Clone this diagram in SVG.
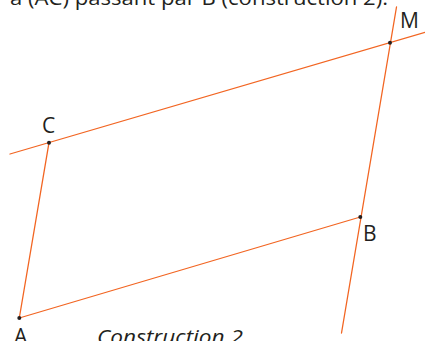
<svg xmlns="http://www.w3.org/2000/svg" width="425" height="341" viewBox="0 0 425 341">
<style>
.ln{stroke:#f26522;stroke-width:1.3;fill:none;stroke-linecap:round}
.pt{fill:#231f20}
.lb{font-family:"Open Sans","Noto Sans",sans-serif;font-size:21px;fill:#231f20}
.tt{font-family:"Open Sans","Noto Sans",sans-serif;font-size:20px;fill:#231f20}
</style>
<rect width="425" height="341" fill="#fff"/>
<text class="tt" x="10" y="4.5" textLength="378" lengthAdjust="spacingAndGlyphs">a (AC) passant par B (construction 2).</text>
<g id="connectors">
<line class="ln" x1="10" y1="154" x2="425" y2="32.4"/>
<line class="ln" x1="396.5" y1="7" x2="341.5" y2="333"/>
<line class="ln" x1="49" y1="142.7" x2="19.3" y2="318"/>
<line class="ln" x1="19.3" y1="318" x2="360.3" y2="217"/>
</g>
<g id="M"><circle class="pt" cx="390" cy="42.7" r="2"/><text class="lb" x="400" y="28.3">M</text></g>
<g id="C"><circle class="pt" cx="49" cy="142.7" r="2"/><text class="lb" x="42" y="133">C</text></g>
<g id="B"><circle class="pt" cx="360.3" cy="217" r="2"/><text class="lb" x="363" y="241">B</text></g>
<g id="A"><circle class="pt" cx="19.3" cy="318" r="2"/><text class="lb" x="14" y="343.5">A</text></g>
<text class="tt" x="97" y="344" font-style="italic" textLength="146" lengthAdjust="spacingAndGlyphs">Construction 2</text>
</svg>
